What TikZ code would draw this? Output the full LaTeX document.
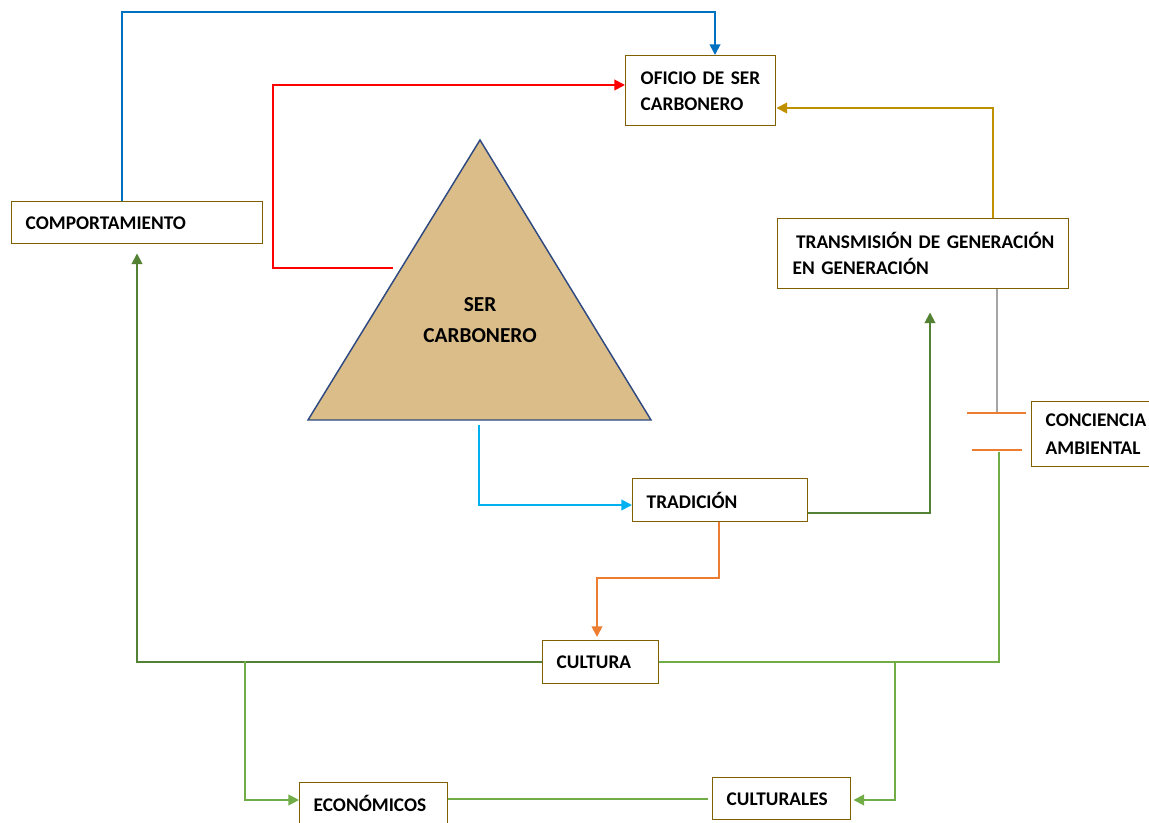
\documentclass[tikz,border=0pt]{standalone}
\usepackage{fontspec}
\setmainfont{Carlito}[WordSpace=0.8]
\usetikzlibrary{arrows.meta,calc}
\definecolor{boxc}{HTML}{7F6000}
\definecolor{cblue}{HTML}{0070C0}
\definecolor{cred}{HTML}{FF0000}
\definecolor{cgold}{HTML}{BF9000}
\definecolor{cgray}{HTML}{A5A5A5}
\definecolor{corange}{HTML}{ED7D31}
\definecolor{clblue}{HTML}{00B0F0}
\definecolor{cdgreen}{HTML}{548235}
\definecolor{clgreen}{HTML}{70AD47}
\definecolor{trifill}{HTML}{DABD88}
\definecolor{triline}{HTML}{2F4A80}
\tikzset{
  box/.style={draw=boxc, line width=1.1pt, fill=white, anchor=north west,
    align=left, inner ysep=0pt, font=\bfseries\fontsize{14.5}{19.5}\selectfont},
  conn/.style={line width=1.4pt},
  arr/.style={conn, -{Triangle[length=8pt,width=8pt]}},
}
\begin{document}
\begin{tikzpicture}[x=0.75pt,y=-0.75pt]
\useasboundingbox (0,0) rectangle (1149,823);
% triangle
\draw[fill=trifill, draw=triline, line width=1.1pt] (480,140) -- (651,420) -- (308,420) -- cycle;
\node[font=\bfseries\fontsize{16}{23}\selectfont, align=center] (ser) at (480,320) {SER\\CARBONERO};
\coordinate (trileft) at (393,268);
\coordinate (tribot) at (479,425);
% boxes
\node[box, minimum width=112.5pt, minimum height=52.5pt, text width=90pt, inner xsep=11.25pt] (ofi) at (625,55) {\mbox{OFICIO DE SER}\\CARBONERO};
\node[box, minimum width=188.25pt, minimum height=31.5pt, text width=167.25pt, inner xsep=10.5pt] (comp) at (11,201) {COMPORTAMIENTO};
\node[box, minimum width=218.25pt, minimum height=52.5pt, text width=195.75pt, inner xsep=11.25pt] (trans) at (777,218) {\mbox{\hspace{2.5pt}TRANSMISIÓN DE GENERACIÓN}\\\mbox{EN GENERACIÓN}};
\node[box, minimum width=97.5pt, minimum height=48.75pt, text width=76.5pt, inner xsep=10.5pt, font=\bfseries\fontsize{14.5}{21}\selectfont] (conc) at (1031,401) {CONCIENCIA\\AMBIENTAL};
\node[box, minimum width=131.25pt, minimum height=32.25pt, text width=110.25pt, inner xsep=10.5pt] (trad) at (632,478) {TRADICIÓN};
\node[box, minimum width=87pt, minimum height=32.25pt, text width=66pt, inner xsep=10.5pt] (cult) at (542,640) {CULTURA};
\node[box, minimum width=111pt, minimum height=31.5pt, text width=90pt, inner xsep=10.5pt] (econ) at (299,782) {ECONÓMICOS};
\node[box, minimum width=103.5pt, minimum height=31.5pt, text width=82.5pt, inner xsep=10.5pt] (cultr) at (712,777) {CULTURALES};
% connectors
\draw[arr, cblue] (comp.north -| 122,0) |- (715,12) -- (ofi.north -| 715,0);
\draw[arr, cred] (trileft) -| (273,85) -- (ofi.west |- 0,85);
\draw[arr, cgold] (trans.north -| 993,0) |- (ofi.east |- 0,108);
\coordinate (capt) at (997,413);
\draw[conn, cgray, line width=1.1pt] (trans.south -| 997,0) -- (capt);
\draw[conn, corange] (967,413) -- (1026,413);
\draw[conn, corange] (972,450) -- (1022,450);
\coordinate (capb) at (999,452);
\draw[conn, clgreen] (capb) |- (cult.east);
\draw[arr, clblue] (tribot) |- (trad.west |- 0,505);
\draw[arr, cdgreen] (trad.east |- 0,513) -| ($(trans.south -| 930,0)+(0,23)$);
\draw[arr, corange] (trad.south -| 719,0) -- (719,578) -| ($(cult.north -| 597,0)+(0,-3)$);
\draw[arr, cdgreen] (cult.west) -| ($(comp.south -| 137,0)+(0,9)$);
\coordinate (j1) at (245,661);
\coordinate (j2) at (895,661);
\draw[arr, clgreen] (j1) |- (econ.west |- 0,800);
\draw[arr, clgreen] (j2) |- ($(cultr.east |- 0,800)+(2,0)$);
\draw[conn, clgreen] (econ.east |- 0,799) -- ($(cultr.west |- 0,799)+(-4,0)$);
\end{tikzpicture}
\end{document}
